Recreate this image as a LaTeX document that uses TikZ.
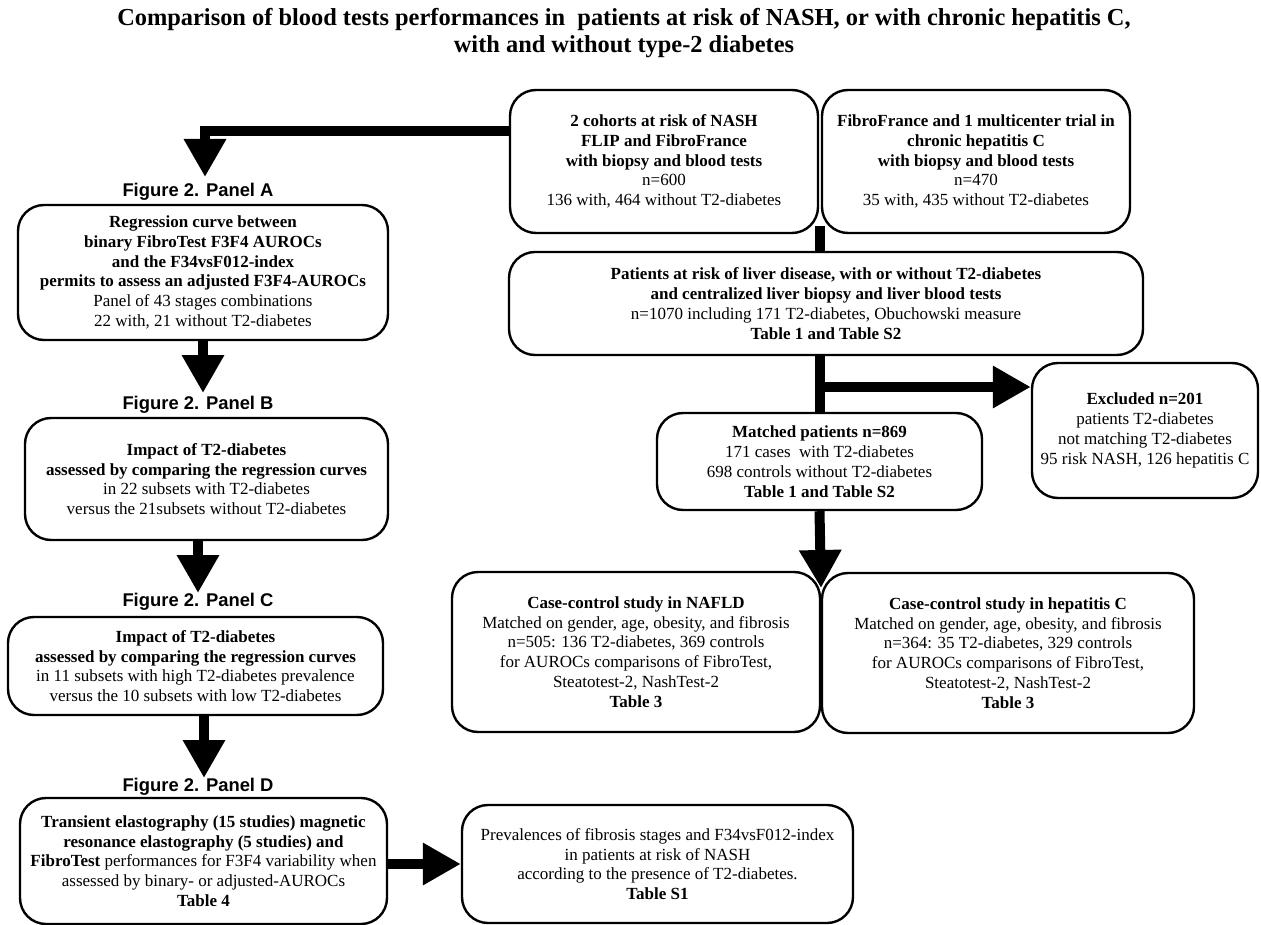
\documentclass[tikz,border=0pt]{standalone}
\usepackage{fontspec}
\setmainfont{Liberation Serif}
\newfontfamily\helvfont{Liberation Sans}
\usetikzlibrary{arrows.meta}
\begin{document}
\begin{tikzpicture}[x=1pt,y=-1pt,
  box/.style={draw, line width=2.4pt, rounded corners=26pt, fill=white, align=center, inner sep=0pt, font=\fontsize{17}{19.8}\selectfont},
  lab/.style={font=\helvfont\bfseries\fontsize{18.4}{20}\selectfont, inner sep=0pt},
  bigarrow/.style={line width=10pt, line join=miter, -{Triangle[length=38pt,width=40pt]}},
  shaft/.style={line width=10pt}]
\fill[white] (0,0) rectangle (1261,925);
\useasboundingbox (0,0) rectangle (1261,925);

% title
\node[font=\bfseries\fontsize{24.4}{27}\selectfont, align=center, inner sep=0pt] (title) at (624,33.5)
 {Comparison of blood tests performances in\ \ patients at risk of NASH, or with chronic hepatitis C,\\with and without type-2 diabetes};

% coordinates for connectors
\coordinate (kA) at (205,131);
\coordinate (tA) at (205,177);
\coordinate (tB) at (203,393);
\coordinate (tC) at (198,593);
\coordinate (tD) at (204,778);
\coordinate (j1) at (820,226);
\coordinate (br) at (820,387);
\coordinate (j2) at (821,588);

% left column labels
\node[lab] (labA) at (198,192) {Figure 2. Panel A};
\node[lab] (labB) at (198,405) {Figure 2. Panel B};
\node[lab] (labC) at (198,602) {Figure 2. Panel C};
\node[lab] (labD) at (198,787) {Figure 2. Panel D};

% boxes
\node[box, minimum width=308pt, minimum height=143pt] (N1) at (664,161.5)
 {\textbf{2 cohorts at risk of NASH}\\\textbf{FLIP and FibroFrance}\\\textbf{with biopsy and blood tests}\\n=600\\136 with, 464 without T2-diabetes};
\node[box, minimum width=308pt, minimum height=143pt] (H1) at (976,161.5)
 {\textbf{FibroFrance and 1 multicenter trial in}\\\textbf{chronic hepatitis C}\\\textbf{with biopsy and blood tests}\\n=470\\35 with, 435 without T2-diabetes};
\node[box, minimum width=634pt, minimum height=103pt] (P) at (826,303.5)
 {\textbf{Patients at risk of liver disease, with or without T2-diabetes}\\\textbf{and centralized liver biopsy and liver blood tests}\\n=1070 including 171 T2-diabetes, Obuchowski measure\\\textbf{Table 1 and Table S2}};
\node[box, minimum width=226pt, minimum height=135pt] (X) at (1145,430.5)
 {\textbf{Excluded n=201}\\patients T2-diabetes\\not matching T2-diabetes\\95 risk NASH, 126 hepatitis C};
\node[box, minimum width=325pt, minimum height=97pt] (M) at (819.5,461.5)
 {\textbf{Matched patients n=869}\\171 cases\ \ with T2-diabetes\\698 controls without T2-diabetes\\\textbf{Table 1 and Table S2}};
\node[box, minimum width=368pt, minimum height=160pt] (NF) at (636,652)
 {\textbf{Case-control study in NAFLD}\\Matched on gender, age, obesity, and fibrosis\\n=505: 136 T2-diabetes, 369 controls\\for AUROCs comparisons of FibroTest,\\Steatotest-2, NashTest-2\\\textbf{Table 3}};
\node[box, minimum width=372pt, minimum height=160pt] (HC) at (1008,653)
 {\textbf{Case-control study in hepatitis C}\\Matched on gender, age, obesity, and fibrosis\\n=364: 35 T2-diabetes, 329 controls\\for AUROCs comparisons of FibroTest,\\Steatotest-2, NashTest-2\\\textbf{Table 3}};

\node[box, minimum width=370pt, minimum height=135pt] (A) at (203,272.5)
 {\textbf{Regression curve between}\\\textbf{binary FibroTest F3F4 AUROCs}\\\textbf{and the F34vsF012-index}\\\textbf{permits to assess an adjusted F3F4-AUROCs}\\Panel of 43 stages combinations\\22 with, 21 without T2-diabetes};
\node[box, minimum width=363pt, minimum height=122pt] (B) at (206.5,479)
 {\textbf{Impact of T2-diabetes}\\\textbf{assessed by comparing the regression curves}\\in 22 subsets with T2-diabetes\\versus the 21subsets without T2-diabetes};
\node[box, minimum width=375pt, minimum height=98pt] (C) at (195.5,666)
 {\textbf{Impact of T2-diabetes}\\\textbf{assessed by comparing the regression curves}\\in 11 subsets with high T2-diabetes prevalence\\versus the 10 subsets with low T2-diabetes};
\node[box, minimum width=367pt, minimum height=126pt] (D) at (203.5,861)
 {\textbf{Transient elastography (15 studies) magnetic}\\\textbf{resonance elastography (5 studies) and}\\\textbf{FibroTest} performances for F3F4 variability when\\assessed by binary- or adjusted-AUROCs\\\textbf{Table 4}};
\node[box, minimum width=391pt, minimum height=118pt] (S1) at (657.5,864)
 {Prevalences of fibrosis stages and F34vsF012-index\\in patients at risk of NASH\\according to the presence of T2-diabetes.\\\textbf{Table S1}};

% connectors
\draw[bigarrow] (N1.west |- kA) -- (kA) -- (tA);
\draw[bigarrow] (A.south -| tB) -- (tB);
\draw[bigarrow] (B.south -| tC) -- (tC);
\draw[bigarrow] (C.south -| tD) -- (tD);
\draw[bigarrow] (D.east |- S1.west) -- (S1.west);
\draw[shaft] (j1) -- (j1 |- P.north);
\draw[shaft] (P.south -| M.north) -- (M.north);
\draw[bigarrow] (br) -- (br -| X.west);
\draw[bigarrow] (M.south) -- (j2);
\end{tikzpicture}
\end{document}
